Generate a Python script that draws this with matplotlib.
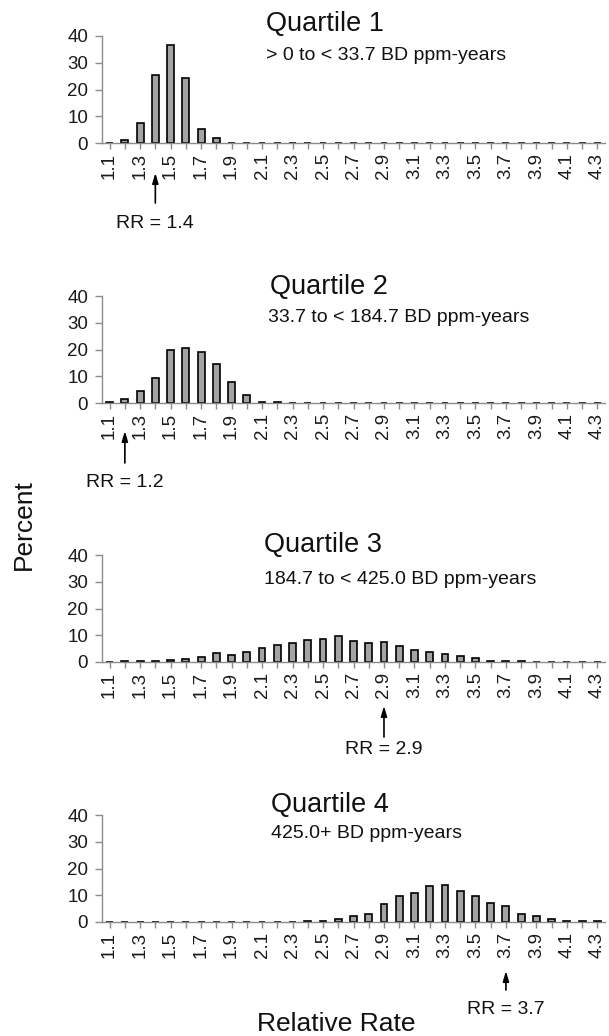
import numpy as np
import matplotlib.pyplot as plt

plt.rcParams['font.family'] = ['Liberation Sans', 'DejaVu Sans']

# relative rate categories 1.1 .. 4.3
rates = [round(1.1 + 0.1 * i, 1) for i in range(33)]

q1 = [0, 1.0, 7.6, 25.5, 36.8, 24.4, 5.3, 1.7] + [0] * 25
q2 = [0.5, 1.4, 4.4, 9.4, 19.9, 20.6, 19.1, 14.6, 7.9, 3.0, 0.5, 0.3] + [0] * 21
q3 = [0, 0.3, 0.2, 0.2, 0.9, 1.1, 2.0, 3.2, 2.6, 3.8, 5.4, 6.2, 7.0, 8.4, 8.6,
      9.9, 8.0, 7.1, 7.6, 6.0, 4.5, 3.6, 2.9, 2.1, 1.6, 0.3, 0.3, 0.3] + [0] * 5
q4 = [0] * 13 + [0.2, 0.5, 1.2, 2.4, 2.9, 6.6, 9.7, 10.9, 13.4, 14.0, 11.7,
                 9.7, 7.0, 5.9, 3.1, 2.4, 1.0, 0.3, 0.3, 0.3]

titles = ["Quartile 1", "Quartile 2", "Quartile 3", "Quartile 4"]
subtitles = ["> 0 to < 33.7 BD ppm-years", "33.7 to < 184.7 BD ppm-years",
             "184.7 to < 425.0 BD ppm-years", "425.0+ BD ppm-years"]
rr_values = [1.4, 1.2, 2.9, 3.7]
series = [q1, q2, q3, q4]

W, H = 609, 1036
fig = plt.figure(figsize=(W / 100, H / 100), dpi=100)

# pixel layout: zero line y, title y, subtitle y, arrow (tail, head) y, rr text y
zero_y = [143, 403, 662, 922]
title_y = [24, 287, 545, 805]
sub_y = [55, 318, 580, 834]
arrow_y = [(203, 173), (463, 431), (737, 706), (990, 971)]
rr_y = [223, 482, 750, 1010]
title_x = [266, 270, 264, 271]
sub_x = [266, 268, 264, 271]

x = np.arange(len(rates))
ax_h = 107
for k in range(4):
    ax = fig.add_axes([102 / W, (H - zero_y[k]) / H, 503 / W, ax_h / H])
    ax.bar(x, series[k], width=0.45, color='#a3a3a3', edgecolor='black', linewidth=1.2)
    ax.set_xlim(-0.5, len(rates) - 0.5)
    ax.set_ylim(0, 40)
    ax.set_yticks([0, 10, 20, 30, 40])
    ax.set_xticks(x)
    ax.set_xticklabels([f"{r:.1f}" if i % 2 == 0 else "" for i, r in enumerate(rates)],
                       rotation=90)
    for s in ['top', 'right']:
        ax.spines[s].set_visible(False)
    for s in ['left', 'bottom']:
        ax.spines[s].set_color('#8c8c8c')
        ax.spines[s].set_linewidth(1.0)
    ax.tick_params(axis='both', colors='#8c8c8c', labelcolor='#1a1a1a',
                   labelsize=13.5, length=4, width=1.0)
    ax.tick_params(axis='x', pad=3)
    ax.tick_params(axis='y', length=5, pad=5)

    fig.text(title_x[k] / W, 1 - title_y[k] / H, titles[k], fontsize=19.5,
             ha='left', va='center', color='#111111')
    fig.text(sub_x[k] / W, 1 - sub_y[k] / H, subtitles[k], fontsize=14,
             ha='left', va='center', color='#111111')

    idx = rates.index(rr_values[k])
    tail, head = arrow_y[k]
    ax.annotate("", xy=(idx, 1 - head / H), xytext=(idx, 1 - tail / H),
                xycoords=('data', 'figure fraction'),
                textcoords=('data', 'figure fraction'),
                arrowprops=dict(arrowstyle='-|>,head_length=0.6,head_width=0.18',
                                color='black', lw=1.2, shrinkA=0, shrinkB=0))
    ax.annotate(f"RR = {rr_values[k]}", xy=(idx, 1 - rr_y[k] / H),
                xycoords=('data', 'figure fraction'), ha='center', va='center',
                fontsize=14, color='#111111', annotation_clip=False)

fig.text(24 / W, 1 - 525 / H, "Percent", rotation=90, fontsize=19,
         ha='center', va='center', color='#111111')
fig.text(336 / W, 1 - 1024 / H, "Relative Rate", fontsize=19,
         ha='center', va='center', color='#111111')

fig.savefig("out.png", dpi=100)
